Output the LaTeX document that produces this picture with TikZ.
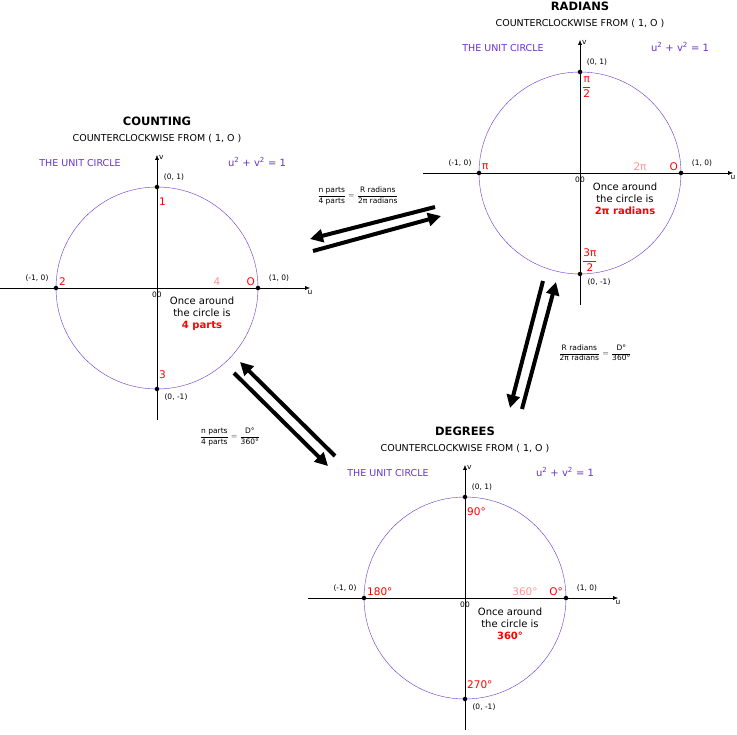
\documentclass[tikz,border=0pt]{standalone}
\usepackage{amsmath}
\usepackage{fontspec}
\setmainfont{DejaVu Sans}
\usetikzlibrary{arrows.meta}
\definecolor{circ}{RGB}{102,51,204}
\definecolor{lab}{RGB}{255,0,0}
\definecolor{pinklab}{RGB}{255,150,150}
\tikzset{
    axis/.style={-{Latex[length=5pt,width=4pt]}},
    pt/.style={circle,fill,inner sep=1.6pt},
    coord/.style={font=\fontsize{7.5}{8}\selectfont,inner sep=0pt},
    redlab/.style={text=lab,font=\fontsize{10.5}{11}\selectfont,inner sep=0pt},
    bigarrow/.style={line width=4pt,-{Triangle[length=13pt,width=13pt]}},
    ratio/.style={font=\fontsize{7.5}{8}\selectfont,inner sep=0pt}
}
% #1 prefix, #2 centre, #3 title, #4 top, #5 left, #6 bottom, #7 pink, #8 bold text, #9 right
\newcommand\unitcircle[9]{
\begin{scope}[shift={#2}]
    \node[font=\bfseries\fontsize{11.5}{12}\selectfont] (#1title) at (0,-167) {#3};
    \node[font=\fontsize{9.5}{10}\selectfont] (#1sub) at (0,-149) {COUNTERCLOCKWISE FROM ( 1, O )};
    \node[text=circ,font=\fontsize{9.5}{10}\selectfont] (#1name) at (-77,-125) {THE UNIT CIRCLE};
    \node[text=circ,font=\fontsize{10}{10}\selectfont] (#1eq) at (100,-126) {u\textsuperscript{2} + v\textsuperscript{2} = 1};
    \draw[circ] (0,0) circle[radius=101];
    \draw[axis] (-157,0) -- (153,0) node[coord,below=2pt]{u};
    \draw[axis] (0,132) -- (0,-133) node[coord,right=2pt,yshift=-2pt]{v};
    \node[pt] (#1top) at (0,-101) {};
    \node[pt] (#1left) at (-101,0) {};
    \node[pt] (#1bot) at (0,101) {};
    \node[pt] (#1right) at (101,0) {};
    \node[coord] (#1ctop) at (17,-111) {(0, 1)};
    \node[coord] (#1cleft) at (-120,-10) {(-1, 0)};
    \node[coord] (#1cbot) at (19,109) {(0, -1)};
    \node[coord] (#1cright) at (122,-10) {(1, 0)};
    \node[coord] (#1zero) at (0,7) {00};
    \node[redlab,anchor=west] (#1ltop) at (2,-86) {#4};
    \node[redlab,anchor=west] (#1lleft) at (-98,-6) {#5};
    \node[redlab,anchor=west] (#1lbot) at (2,87) {#6};
    \node[redlab,text=pinklab] (#1lpink) at (60,-6) {#7};
    \node[redlab,anchor=east] (#1lright) at (98,-6) {#9};
    \node[align=center,font=\fontsize{10}{12}\selectfont,inner sep=0pt] (#1once) at (45,26)
        {Once around\\the circle is\\\textcolor{lab}{\bfseries #8}};
\end{scope}
}
\begin{document}
\begin{tikzpicture}[x=1pt,y=-1pt]
    \useasboundingbox[fill=white] (0,0) rectangle (737,735);

    \unitcircle{c}{(157,288)}{COUNTING}{1}{2}{3}{4}{4 parts}{O}
    \unitcircle{r}{(580,173)}{RADIANS}{\raisebox{-12pt}{$\dfrac{\mbox{π}}{\mbox{2}}$}}{π}{\raisebox{-4pt}{$\dfrac{\mbox{3π}}{\mbox{2}}$}}{2π}{2π radians}{O}
    \unitcircle{d}{(465,598)}{DEGREES}{90°}{180°}{270°}{360°}{360°}{O°}

    % arrows between the circles
    \coordinate (a1) at (435,207); \coordinate (a2) at (310,239);
    \coordinate (a3) at (313,251); \coordinate (a4) at (441,216);
    \draw[bigarrow] (a1) -- (a2);
    \draw[bigarrow] (a3) -- (a4);
    \coordinate (b1) at (335,456); \coordinate (b2) at (240,362);
    \coordinate (b3) at (234,373); \coordinate (b4) at (328,466);
    \draw[bigarrow] (b1) -- (b2);
    \draw[bigarrow] (b3) -- (b4);
    \coordinate (e1) at (543,281); \coordinate (e2) at (510,408);
    \coordinate (e3) at (522,409); \coordinate (e4) at (556,282);
    \draw[bigarrow] (e1) -- (e2);
    \draw[bigarrow] (e3) -- (e4);

    \node[ratio] (f1) at (358,196) {$\dfrac{\mbox{n parts}}{\mbox{4 parts}} = \dfrac{\mbox{R radians}}{\mbox{2π radians}}$};
    \node[ratio] (f2) at (230,437) {$\dfrac{\mbox{n parts}}{\mbox{4 parts}} = \dfrac{\mbox{D°}}{\mbox{360°}}$};
    \node[ratio] (f3) at (595,353) {$\dfrac{\mbox{R radians}}{\mbox{2π radians}} = \dfrac{\mbox{D°}}{\mbox{360°}}$};
\end{tikzpicture}
\end{document}
